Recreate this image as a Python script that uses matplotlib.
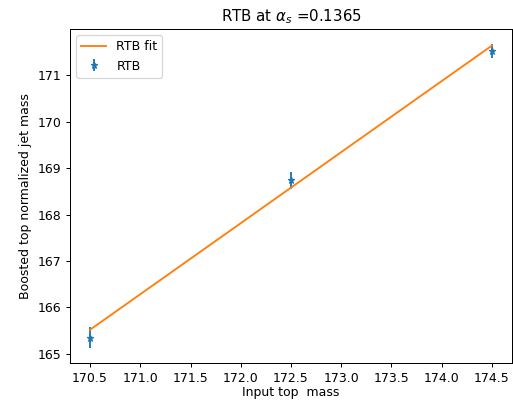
import matplotlib
matplotlib.use("Agg")
import matplotlib.pyplot as plt
import numpy as np

input_mass = [170.5, 172.5, 174.5]
jet_mass = [165.35, 168.74, 171.52]
jet_err = [0.22, 0.18, 0.15]
fit_vals = [165.52, 168.58, 171.64]

DPI = 90
fig = plt.figure(figsize=(513 / DPI, 401 / DPI), dpi=DPI)
ax = fig.add_axes([70 / 513, 1 - 363 / 401, 442 / 513, 334 / 401])
ax.errorbar(input_mass, jet_mass, yerr=jet_err, fmt='*', markersize=5, color='#1f77b4', label='RTB')
ax.plot(input_mass, fit_vals, color='#ff7f0e', label='RTB fit')
ax.set_xlabel('Input top  mass', labelpad=1)
ax.set_ylabel('Boosted top normalized jet mass')
ax.set_title(r'RTB at $\alpha_s$ =0.1365')
ax.legend(loc='upper left')
fig.savefig('out.png', dpi=DPI)
